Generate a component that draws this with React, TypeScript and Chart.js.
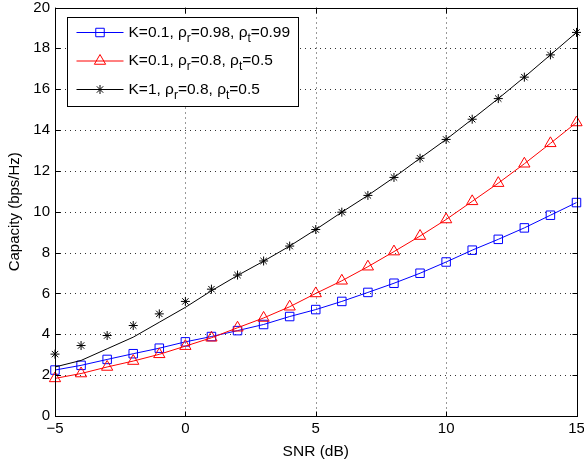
import React, { useEffect, useRef } from 'react';
import { Chart, registerables } from 'chart.js';
import { drawPoint } from 'chart.js/helpers';

Chart.register(...registerables);

// ---- data ----
const snrDb = [-5, -4, -3, -2, -1, 0, 1, 2, 3, 4, 5, 6, 7, 8, 9, 10, 11, 12, 13, 14, 15];
const capBlue = [2.25, 2.48, 2.77, 3.05, 3.32, 3.63, 3.89, 4.18, 4.48, 4.87, 5.21, 5.61, 6.05, 6.5, 6.99, 7.54, 8.12, 8.65, 9.21, 9.83, 10.45];
const capRed = [1.84, 2.08, 2.4, 2.69, 3.02, 3.42, 3.83, 4.32, 4.8, 5.35, 6.0, 6.62, 7.31, 8.05, 8.81, 9.62, 10.51, 11.4, 12.35, 13.35, 14.37];
const capBlackSim = [3.03, 3.45, 3.94, 4.43, 5.0, 5.61, 6.21, 6.9, 7.59, 8.32, 9.13, 9.98, 10.8, 11.68, 12.62, 13.54, 14.53, 15.54, 16.59, 17.68, 18.78];
const capBlackLine = [2.4, 2.72, 3.29, 3.86, 4.59, 5.32, 6.13, 6.88, 7.58, 8.32, 9.13, 9.98, 10.8, 11.68, 12.62, 13.54, 14.53, 15.54, 16.59, 17.68, 18.78];
const xTickValues = [-5, 0, 5, 10, 15];
const yTickValues = [0, 2, 4, 6, 8, 10, 12, 14, 16, 18, 20];
const xTitle = 'SNR (dB)';
const yTitle = 'Capacity (bps/Hz)';
// legend labels: [text, isSubscript]
const legendBlue: [string, boolean][] = [['K=0.1, ρ', false], ['r', true], ['=0.98, ρ', false], ['t', true], ['=0.99', false]];
const legendRed: [string, boolean][] = [['K=0.1, ρ', false], ['r', true], ['=0.8, ρ', false], ['t', true], ['=0.5', false]];
const legendBlack: [string, boolean][] = [['K=1, ρ', false], ['r', true], ['=0.8, ρ', false], ['t', true], ['=0.5', false]];

const FONT = '"Liberation Sans", Arial, Helvetica, sans-serif';
const BLUE = '#0000ff';
const RED = '#ff0000';
const BLACK = '#000000';

const blueMarker = { pointStyle: 'rect', radius: 6, rotation: 0, borderWidth: 1 };
const redMarker = { pointStyle: 'triangle', radius: 6.5, rotation: 0, borderWidth: 1 };
const blackMarker = { pointStyle: 'star', radius: 4.5, rotation: 0, borderWidth: 1 };

const frameLegendPlugin = {
  id: 'frameLegend',
  beforeDatasetsDraw(chart: any) {
    const { ctx, chartArea: a, scales } = chart;
    ctx.save();
    ctx.strokeStyle = '#333';
    ctx.lineWidth = 1;
    ctx.setLineDash([1, 4]);
    for (const v of xTickValues) {
      const px = Math.round(scales.x.getPixelForValue(v)) + 0.5;
      ctx.beginPath();
      ctx.moveTo(px, a.top);
      ctx.lineTo(px, a.bottom);
      ctx.stroke();
    }
    for (const v of yTickValues) {
      const py = Math.round(scales.y.getPixelForValue(v)) + 0.5;
      ctx.beginPath();
      ctx.moveTo(a.left, py);
      ctx.lineTo(a.right, py);
      ctx.stroke();
    }
    ctx.restore();
  },
  afterDatasetsDraw(chart: any) {
    const { ctx, chartArea: a, scales } = chart;
    ctx.save();
    ctx.strokeStyle = BLACK;
    ctx.lineWidth = 1;
    ctx.setLineDash([]);
    const L = Math.round(a.left) + 0.5, R = Math.round(a.right) + 0.5;
    const T = Math.round(a.top) + 0.5, B = Math.round(a.bottom) + 0.5;
    ctx.strokeRect(L, T, R - L, B - T);
    const tl = 5;
    ctx.beginPath();
    for (const v of xTickValues) {
      const px = Math.round(scales.x.getPixelForValue(v)) + 0.5;
      ctx.moveTo(px, B); ctx.lineTo(px, B - tl);
      ctx.moveTo(px, T); ctx.lineTo(px, T + tl);
    }
    for (const v of yTickValues) {
      const py = Math.round(scales.y.getPixelForValue(v)) + 0.5;
      ctx.moveTo(L, py); ctx.lineTo(L + tl, py);
      ctx.moveTo(R, py); ctx.lineTo(R - tl, py);
    }
    ctx.stroke();
    ctx.restore();
  },
  afterDraw(chart: any) {
    const { ctx, chartArea: a } = chart;
    const bx = Math.round(a.left) + 12.5, by = Math.round(a.top) + 9.5;
    const bw = 231, bh = 89;
    ctx.save();
    ctx.fillStyle = '#ffffff';
    ctx.fillRect(bx, by, bw, bh);
    ctx.strokeStyle = BLACK;
    ctx.lineWidth = 1;
    ctx.strokeRect(bx, by, bw, bh);
    const entries: [string, any, [string, boolean][]][] = [
      [BLUE, blueMarker, legendBlue],
      [RED, redMarker, legendRed],
      [BLACK, blackMarker, legendBlack],
    ];
    entries.forEach(([col, mk, parts], i) => {
      const cy = by + 15 + i * 28.5;
      ctx.strokeStyle = col;
      ctx.lineWidth = 1;
      ctx.beginPath();
      ctx.moveTo(bx + 9, cy);
      ctx.lineTo(bx + 56, cy);
      ctx.stroke();
      ctx.fillStyle = 'rgba(0,0,0,0)';
      drawPoint(ctx, mk, bx + 32.5, cy);
      let tx = bx + 61;
      ctx.fillStyle = BLACK;
      ctx.textBaseline = 'middle';
      ctx.textAlign = 'left';
      for (const [t, sub] of parts) {
        ctx.font = (sub ? '12px ' : '15.5px ') + FONT;
        ctx.fillText(t, tx, sub ? cy + 6 : cy);
        tx += ctx.measureText(t).width;
      }
    });
    ctx.restore();
  },
};

const pts = (ys: number[]) => snrDb.map((x, i) => ({ x, y: ys[i] }));

export default function App() {
  const ref = useRef<HTMLCanvasElement | null>(null);
  useEffect(() => {
    if (!ref.current) return;
    Chart.defaults.font.family = FONT;
    Chart.defaults.color = BLACK;
    const chart = new Chart(ref.current, {
      type: 'line',
      data: {
        datasets: [
          {
            data: pts(capBlue), borderColor: BLUE, backgroundColor: 'rgba(0,0,0,0)', borderWidth: 1,
            pointStyle: 'rect', pointRadius: blueMarker.radius, pointBorderWidth: 1, pointBorderColor: BLUE,
            pointBackgroundColor: 'rgba(0,0,0,0)', tension: 0, clip: false, order: 3,
          },
          {
            data: pts(capRed), borderColor: RED, backgroundColor: 'rgba(0,0,0,0)', borderWidth: 1,
            pointStyle: 'triangle', pointRadius: redMarker.radius, pointBorderWidth: 1, pointBorderColor: RED,
            pointBackgroundColor: 'rgba(0,0,0,0)', tension: 0, clip: false, order: 2,
          },
          {
            data: pts(capBlackLine), borderColor: BLACK, borderWidth: 1, pointRadius: 0,
            backgroundColor: 'rgba(0,0,0,0)', tension: 0, clip: false, order: 1,
          },
          {
            data: pts(capBlackSim), borderColor: BLACK, showLine: false,
            pointStyle: 'star', pointRadius: blackMarker.radius, pointBorderWidth: 1, pointBorderColor: BLACK,
            pointBackgroundColor: 'rgba(0,0,0,0)', clip: false, order: 0,
          },
        ],
      } as any,
      options: {
        animation: false,
        responsive: false,
        devicePixelRatio: 1,
        layout: { padding: { top: 5, right: 7, left: 0, bottom: 0 } },
        plugins: { legend: { display: false }, tooltip: { enabled: false } },
        events: [],
        scales: {
          x: {
            type: 'linear', min: -5, max: 15,
            grid: { display: false, drawTicks: false },
            border: { display: false },
            afterBuildTicks: (s: any) => { s.ticks = xTickValues.map((v) => ({ value: v })); },
            afterFit: (s: any) => { s.height = 47; s.paddingLeft = 0; s.paddingRight = 0; },
            ticks: {
              autoSkip: false, maxRotation: 0, padding: 4, color: BLACK,
              font: { size: 15, family: FONT },
              callback: (v: any) => (Number(v) < 0 ? '\u2212' + Math.abs(Number(v)) : String(v)),
            },
            title: { display: true, text: xTitle, color: BLACK, font: { size: 15.5, family: FONT }, padding: { top: 0, bottom: 2 } },
          },
          y: {
            type: 'linear', min: 0, max: 20,
            grid: { display: false, drawTicks: false },
            border: { display: false },
            afterBuildTicks: (s: any) => { s.ticks = yTickValues.map((v) => ({ value: v })); },
            afterFit: (s: any) => { s.width = 55; s.paddingTop = 0; s.paddingBottom = 0; },
            ticks: { autoSkip: false, padding: 5, color: BLACK, font: { size: 15, family: FONT } },
            title: { display: true, text: yTitle, color: BLACK, font: { size: 15, family: FONT }, padding: { top: 6, bottom: 0 } },
          },
        },
      } as any,
      plugins: [frameLegendPlugin],
    });
    return () => chart.destroy();
  }, []);
  return (
    <div style={{ position: 'absolute', left: 0, top: 0, width: 584, height: 463, background: '#fff' }}>
      <canvas ref={ref} width={584} height={463} style={{ display: 'block', width: 584, height: 463 }} />
    </div>
  );
}
